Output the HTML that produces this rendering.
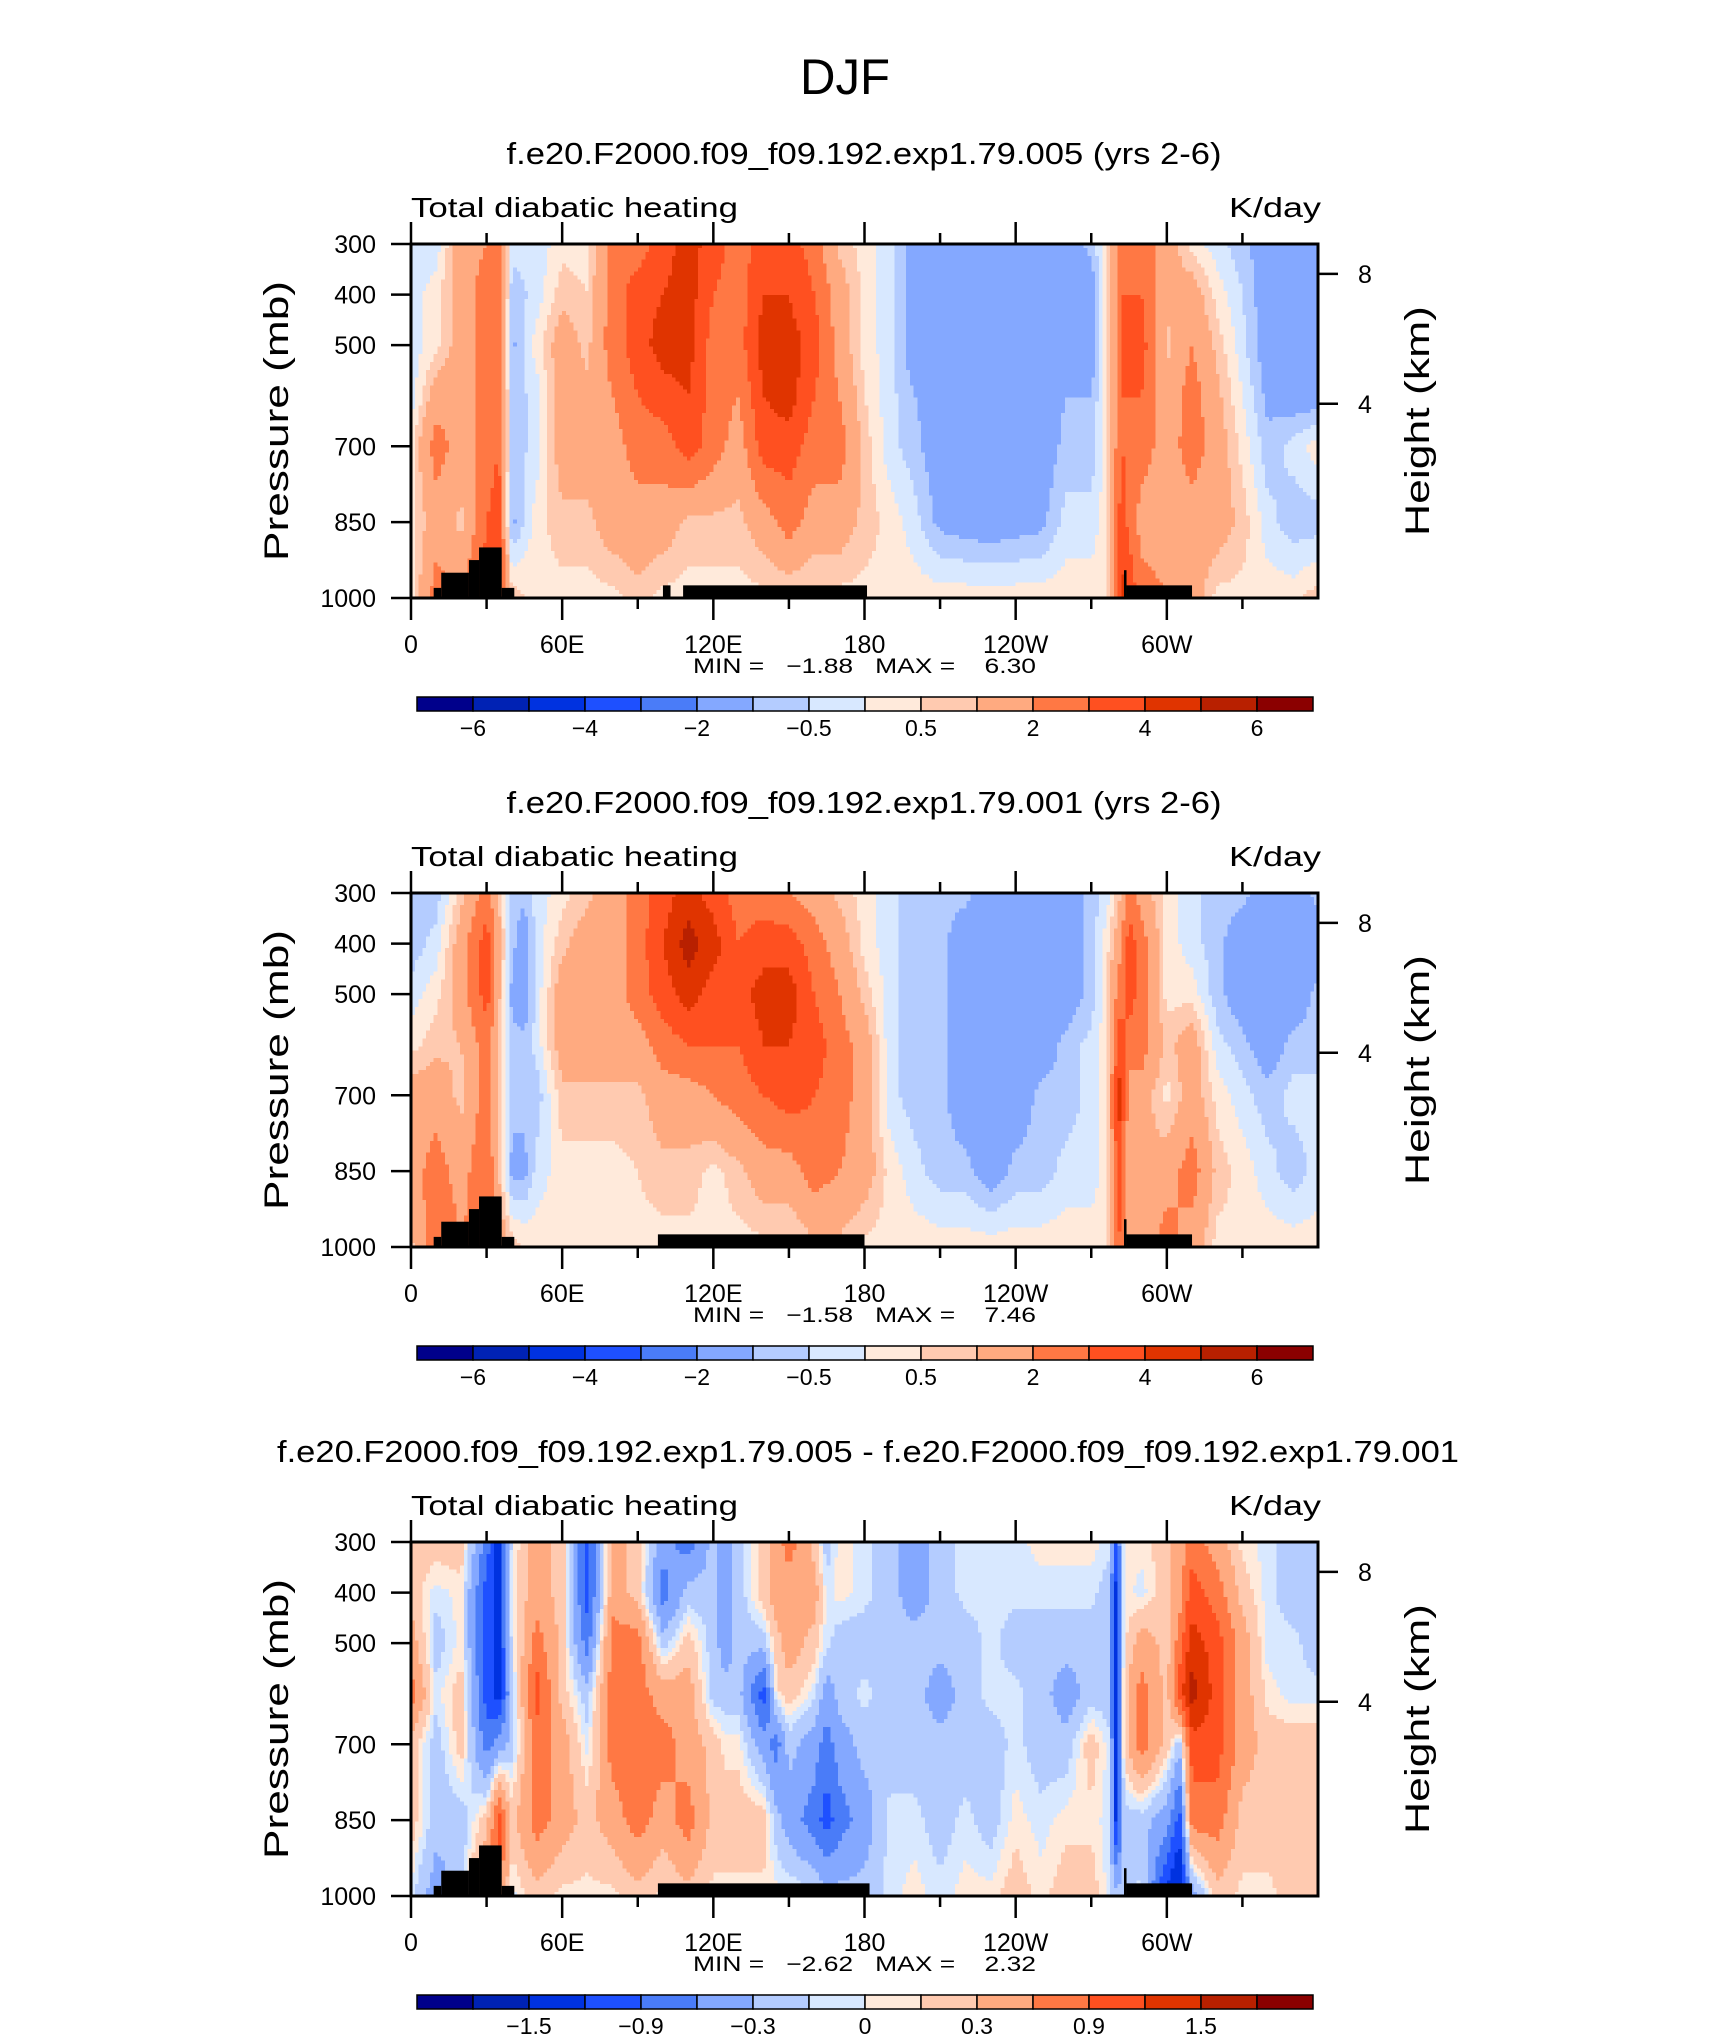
<!DOCTYPE html>
<html><head><meta charset="utf-8"><style>
html,body{margin:0;padding:0;background:#fff;}
svg{display:block;font-family:"Liberation Sans",sans-serif;}
</style></head>
<body>
<svg id="fig" xmlns="http://www.w3.org/2000/svg" width="1710" height="2038" viewBox="0 0 1710 2038">
<rect x="0" y="0" width="1710" height="2038" fill="#fff"/>
<text x="845" y="94" font-size="50" text-anchor="middle" textLength="90" lengthAdjust="spacingAndGlyphs">DJF</text>
</svg>
<script>
const pressures=[300,400,500,600,700,850,1000];
const colors=["#00008b","#0022b4","#0032e0","#1e50ff","#4a7cf8","#84a8ff","#b4ccff","#d8e8ff","#ffeadb","#ffcab0","#ffaa80","#ff7844","#ff5020","#e03400","#b82000","#8b0000"];
const levels12=[-6,-5,-4,-3,-2,-1,-0.5,0,0.5,1,2,3,4,5,6];
const levels3=[-1.8,-1.5,-1.2,-0.9,-0.6,-0.3,-0.1,0,0.1,0.3,0.6,0.9,1.2,1.5,1.8];
const cbLabels12=["−6","−4","−2","−0.5","0.5","2","4","6"];
const cbLabelIdx12=[1,3,5,7,9,11,13,15];
const cbLabels3=["−1.5","−0.9","−0.3","0","0.3","0.9","1.5"];
const cbLabelIdx3=[2,4,6,8,10,12,14];
const xTickLabels=["0","60E","120E","180","120W","60W"];
const xTickVals=[0,60,120,180,240,300];
const pTicks=[300,400,500,700,850,1000];
const hTicks=[8,4];
const hTickP=[359,616];

const p1Lon=[0,10,20,30,35,40,50,60,70,80,90,100,110,120,130,140,150,160,170,180,190,200,210,230,250,260,270,276,282,290,300,310,320,330,340,350,360];
const p1Val=[[-0.3,-0.3,-0.3,-0.3,0.3,0.3,0.3],[-0.3,0.3,0.3,1.5,2.5,1.5,2.5],[1.5,1.5,1.5,1.5,1.5,0.8,2],[2,2.5,2.5,2.5,2.5,3,3.5],[2.5,3,3,3,3,3.5,3.5],[-0.3,-0.8,-1.2,-0.8,-0.8,-1.2,0.8],[-0.3,-0.3,0.3,-0.3,-0.3,0.3,0.3],[0.3,0.8,1.5,1.5,1.5,0.8,0.3],[0.3,0.5,0.8,1.2,1.5,0.8,0.3],[2.5,2.5,2.5,2,1.5,1.5,0.3],[2.5,3.5,3.5,3,2.5,1.5,0.8],[3.5,4,4.5,3.5,2.5,1.5,0.3],[4.5,4.5,4.5,4,3.5,0.8,0.3],[3.5,3,2.5,2.5,2.5,0.8,0.3],[2.5,2.5,2.5,2,1.5,0.8,0.3],[3.5,4,4.5,4,3.5,1.5,0.3],[3.5,4,4.5,4.5,3.5,2.5,0.3],[2.5,3,3.5,3,2.5,1.5,0.3],[0.8,1.5,1.5,2,2.5,1.5,0.3],[0.3,0.3,0.3,0.5,0.8,0.8,0.3],[-0.3,-0.3,-0.3,-0.3,-0.3,0.3,0.3],[-1.5,-1.5,-1.5,-1,-0.8,-0.3,0.3],[-1.5,-1.5,-1.5,-1.5,-1.5,-1.2,0.3],[-1.5,-1.5,-1.5,-1.5,-1.5,-1.5,0.3],[-1.5,-1.5,-1.5,-1.5,-1.5,-1.2,0.3],[-1.5,-1.5,-1.5,-1,-0.8,-0.3,0.3],[-0.8,-1.5,-1.5,-1,-0.8,-0.3,0.3],[0.3,0.3,0.3,0.3,0.3,0.3,0.5],[2.5,3,3,3,3,3.5,4.5],[2.5,3,3.5,3,2.5,1.5,2.5],[1.5,1.2,0.8,1.2,1.5,1.5,2],[0.3,1.5,2,2.5,2.5,1.5,1.5],[-0.3,0.3,0.8,1.2,1.5,1.5,0.3],[-0.8,-0.5,-0.3,0,0.3,0.8,0.3],[-1.5,-1.5,-1.5,-1.2,-0.8,-0.3,0.3],[-1.5,-1.5,-1.5,-1.5,-0.3,-0.8,0.3],[-1.5,-1.5,-1.5,-1.5,0.3,-0.8,0.8]];

const p2Lon=[0,10,20,30,40,45,50,60,70,80,90,100,110,120,130,140,150,160,170,180,190,200,210,220,230,240,250,260,270,276,281,285,290,300,310,320,330,340,350,360];
const p2Val=[[-0.8,-0.8,-0.3,0.3,1.5,1.5,0.8],[-0.8,-0.3,0.3,0.8,1.5,2.5,3],[0.8,1.5,1.5,1,0.8,1.5,2],[2.5,3.5,3.5,2.5,2.5,3,3],[-0.8,-0.8,-1.2,-0.8,-0.8,-1.2,0.8],[-0.8,-1.5,-1.5,-0.8,-0.8,-1.2,0.5],[-0.3,-0.3,-0.3,-0.3,-0.8,-0.3,0.3],[0.3,0.8,1.5,1.5,0.8,0.3,0.3],[0.8,1.5,1.5,1.5,0.8,0.3,0.3],[1.5,1.5,1.5,1.5,0.8,0.3,0.3],[2.5,2.5,2.5,1.5,0.8,0.5,0.3],[3.5,4,3.5,2.5,1.5,0.8,0.3],[4.5,5.5,4.5,3,1.5,0.8,0.3],[3.5,4.5,3.5,3,2,0.3,0.3],[2.5,3,3.5,3,2.5,0.8,0.3],[2.5,3.5,4.5,4,3,1.5,0.3],[2,3.5,4.5,4,3.5,1.5,0.3],[1.5,2.5,3,3.5,3,2.5,0.8],[0.8,1.5,2,2.5,2.5,2,0.8],[0.3,0.3,0.8,1.5,1.5,1.5,0.3],[-0.3,-0.3,-0.3,-0.3,-0.3,0.3,0.3],[-0.8,-0.8,-0.8,-0.8,-0.8,-0.3,0.3],[-0.8,-0.8,-0.8,-0.8,-0.8,-0.8,0.3],[-0.8,-1.5,-1.5,-1.5,-1.5,-0.8,0.3],[-1.5,-1.5,-1.5,-1.5,-1.5,-1.5,0.3],[-1.5,-1.5,-1.5,-1.5,-1.5,-0.8,0.3],[-1.5,-1.5,-1.5,-1.5,-0.8,-0.8,0.3],[-1.5,-1.5,-1.5,-0.8,-0.8,-0.3,0.3],[-0.8,-0.8,-0.8,-0.3,-0.3,-0.3,0.3],[-0.3,0.3,0.3,0.3,0.3,0.3,0.3],[0.8,1.5,2.5,3.5,4.5,3.5,3],[2.5,3.5,3.5,2.5,1.5,1.5,1.5],[1.5,2.5,2.5,2.5,1.5,1,1.5],[0.3,0.3,0.3,0.8,0.3,1.5,2.5],[-0.3,-0.3,0.3,1.5,1.5,2.5,1.5],[-0.8,-0.8,-0.8,-0.3,0.3,0.8,0.3],[-0.8,-1.5,-1.5,-0.8,-0.3,0.3,0.3],[-1.5,-1.5,-1.5,-1.5,-0.8,-0.3,0.3],[-1.5,-1.5,-1.5,-0.8,-0.3,-0.8,0.3],[-0.8,-1.5,-0.8,-0.8,-0.3,-0.3,0.3]];

const p3Lon=[0,10,20,30,35,40,50,60,70,80,90,100,110,120,125,130,140,145,150,160,165,170,180,190,200,210,220,230,240,250,260,270,277,280,283,290,300,305,310,320,330,340,350,360];
const p3Val=[[0.2,0.2,0.45,0.75,0.2,0.2,-0.05],[0.2,-0.05,-0.2,-0.05,-0.2,-0.2,-0.45],[0.2,0.05,0.05,0.2,0.2,-0.2,-0.2],[-0.75,-1.05,-1.05,-1.05,-0.75,0.2,0.75],[-1.35,-1.35,-1.35,-1.35,-0.45,1.05,0.75],[-0.05,0.05,-0.05,-0.2,-0.2,0.2,-0.05],[0.45,0.45,0.75,1.05,0.75,0.75,0.2],[0.2,0.2,0.2,0.2,0.45,0.45,0.05],[-1.05,-1.05,-0.75,-0.2,-0.05,0.2,0.05],[0.45,0.45,0.75,0.75,0.75,0.45,0.05],[0.2,0.2,0.75,0.75,0.75,0.75,0.2],[-0.45,-0.75,-0.2,0.45,0.75,0.45,0.05],[-0.75,-0.2,0.2,0.45,0.45,0.75,0.2],[-0.2,-0.2,-0.2,-0.2,0.2,0.2,0.05],[-0.45,-0.45,-0.45,-0.2,0.05,0.2,0.05],[-0.2,-0.2,-0.2,-0.2,0.05,0.2,0.05],[0.2,0.2,-0.2,-1.05,-0.45,0.2,0.05],[0.45,0.45,0.2,0.05,-0.75,-0.2,0.05],[0.75,0.45,0.45,0.2,-0.2,-0.45,0.05],[0.2,0.45,0.2,-0.05,-0.45,-0.75,-0.05],[-0.2,-0.05,-0.05,-0.45,-0.75,-1.05,-0.2],[0.05,0.05,-0.2,-0.2,-0.45,-0.75,-0.2],[-0.05,-0.05,-0.2,-0.05,-0.2,-0.45,-0.2],[-0.2,-0.2,-0.2,-0.2,-0.2,-0.05,-0.05],[-0.45,-0.45,-0.2,-0.2,-0.2,-0.05,0.05],[-0.2,-0.2,-0.2,-0.45,-0.2,-0.2,-0.05],[-0.05,-0.05,-0.2,-0.2,-0.2,-0.05,0.05],[-0.05,-0.05,-0.05,-0.05,-0.2,-0.2,0.05],[-0.05,-0.05,-0.2,-0.05,-0.05,0.05,0.2],[0.05,-0.05,-0.2,-0.2,-0.2,-0.05,0.05],[0.05,-0.05,-0.2,-0.45,-0.2,0.05,0.2],[0.05,-0.05,-0.2,-0.2,0.2,0.05,0.2],[-0.05,-0.2,-0.2,-0.2,-0.05,-0.05,-0.05],[-1.05,-1.35,-1.35,-1.35,-1.35,-1.35,-0.2],[0.05,0.05,0.05,0.2,0.2,-0.2,-0.2],[0.05,-0.05,0.45,0.75,0.75,-0.2,-0.05],[0.2,0.2,0.2,0.2,0.2,-0.45,-1.35],[0.45,0.45,0.75,1.05,-0.2,-1.05,-1.65],[0.75,1.05,1.35,1.65,1.05,0.75,-0.45],[0.45,0.75,1.05,1.05,1.05,0.75,0.2],[0.05,0.2,0.45,0.45,0.45,0.2,0.05],[-0.05,-0.05,-0.05,0.05,0.2,0.2,0.05],[-0.2,-0.2,-0.05,-0.05,0.2,0.2,0.2],[-0.2,-0.2,-0.2,-0.05,0.2,0.2,0.2]];

const topo1Start=[9,12,23,27,36,100,108,283,284];
const topo1End=[12,23,27,36,41,103,181,284,310];
const topo1Top=[980,950,925,900,980,975,975,945,975];
const topo2Start=[9,12,23,27,36,98,283,284];
const topo2End=[12,23,27,36,41,180,284,310];
const topo2Top=[980,950,925,900,980,975,945,975];
const topo3End=[12,23,27,36,41,182,284,310];

const panelTitles=["f.e20.F2000.f09_f09.192.exp1.79.005 (yrs 2-6)","f.e20.F2000.f09_f09.192.exp1.79.001 (yrs 2-6)","f.e20.F2000.f09_f09.192.exp1.79.005 - f.e20.F2000.f09_f09.192.exp1.79.001"];
const minVals=["−1.88","−1.58","−2.62"];
const maxVals=["6.30","7.46","2.32"];

const NS="http://www.w3.org/2000/svg";
const svg=document.getElementById('fig');
function mk(tag,attrs,parent){const e=document.createElementNS(NS,tag);for(const k in attrs)e.setAttribute(k,attrs[k]);(parent||svg).appendChild(e);return e;}

const PL=411,PR=1318,PH=354;
function xScale(lon){return PL+(lon/360)*(PR-PL);}

function interp(lons,vals,lon,p){
  let i=0;while(i<lons.length-2&&lon>lons[i+1])i++;
  const tx=Math.max(0,Math.min(1,(lon-lons[i])/(lons[i+1]-lons[i])));
  let j=0;while(j<pressures.length-2&&p>pressures[j+1])j++;
  const ty=Math.max(0,Math.min(1,(p-pressures[j])/(pressures[j+1]-pressures[j])));
  const a=vals[i][j]*(1-tx)+vals[i+1][j]*tx;
  const b=vals[i][j+1]*(1-tx)+vals[i+1][j+1]*tx;
  return a*(1-ty)+b*ty;
}
function colorIdx(v,lev){let k=0;while(k<lev.length&&v>=lev[k])k++;return k;}

function drawPanel(n,top,lons,vals,levels,tS,tE,tT,cbL,cbI){
  const yScale=p=>top+(p-300)/700*PH;
  const g=mk('g',{});
  
  
  const t=mk('text',{x:n==2?868:864,y:top-80,'font-size':31,'text-anchor':'middle',textLength:n==2?1182:715,lengthAdjust:'spacingAndGlyphs'},g);
  t.textContent=panelTitles[n];
  
  
  const st=mk('text',{x:PL,y:top-27,'font-size':28,textLength:327,lengthAdjust:'spacingAndGlyphs'},g);
  st.textContent="Total diabatic heating";
  
  
  const un=mk('text',{x:1321,y:top-27,'font-size':28,'text-anchor':'end',textLength:92,lengthAdjust:'spacingAndGlyphs'},g);
  un.textContent="K/day";
  
  
  const fg=mk('g',{'shape-rendering':'crispEdges'},g);
  
  
  const nx=240,ny=90,dx=360/nx,dp=700/ny;
  for(let r=0;r<ny;r++){
    const p=300+(r+0.5)*dp;
    let start=0,cur=-1;
    for(let c=0;c<=nx;c++){
      const k=c<nx?colorIdx(interp(lons,vals,(c+0.5)*dx,p),levels):-2;
      if(k!==cur){
        if(cur>=0){
          const x0=xScale(start*dx),x1=xScale(c*dx);
          const rc=mk('rect',{x:x0.toFixed(2),y:yScale(300+r*dp).toFixed(2),width:(x1-x0+0.6).toFixed(2),height:(PH/ny+0.6).toFixed(2),fill:colors[cur]},fg);
          
          
        }
        cur=k;start=c;
      }
    }
  }
  for(let i=0;i<tS.length;i++){
    const r=mk('rect',{x:xScale(tS[i]),y:yScale(tT[i]),width:xScale(tE[i])-xScale(tS[i]),height:yScale(1000)-yScale(tT[i]),fill:'#000'},g);
    
    
  }
  const fr=mk('rect',{x:PL,y:top,width:PR-PL,height:PH,fill:'none',stroke:'#000','stroke-width':3},g);
  
  
  for(let lon=0;lon<=330;lon+=30){
    const major=lon%60===0,len=major?22:11,x=xScale(lon);
    mk('line',{x1:x,y1:top+PH,x2:x,y2:top+PH+len,stroke:'#000','stroke-width':2.5},g);
    mk('line',{x1:x,y1:top,x2:x,y2:top-len,stroke:'#000','stroke-width':2.5},g);
  }
  xTickVals.forEach((v,i)=>{
    const tl=mk('text',{x:xScale(v),y:top+PH+55,'font-size':25,'text-anchor':'middle'},g);
    tl.textContent=xTickLabels[i];
    
    
  });
  pTicks.forEach(p=>{
    const y=yScale(p);
    mk('line',{x1:PL,y1:y,x2:PL-20,y2:y,stroke:'#000','stroke-width':2.5},g);
    const tl=mk('text',{x:376,y:y+9,'font-size':25,'text-anchor':'end'},g);
    tl.textContent=String(p);
    
    
  });
  hTicks.forEach((h,i)=>{
    const y=yScale(hTickP[i]);
    mk('line',{x1:PR,y1:y,x2:PR+20,y2:y,stroke:'#000','stroke-width':2.5},g);
    const tl=mk('text',{x:1358,y:y+9,'font-size':25},g);
    tl.textContent=String(h);
    
    
  });
  const yt=mk('text',{x:0,y:0,'font-size':34,'text-anchor':'middle',textLength:280,lengthAdjust:'spacingAndGlyphs',transform:`translate(288,${top+PH/2}) rotate(-90)`},g);
  yt.textContent="Pressure (mb)";
  
  
  const ht=mk('text',{x:0,y:0,'font-size':34,'text-anchor':'middle',textLength:230,lengthAdjust:'spacingAndGlyphs',transform:`translate(1429,${top+PH/2}) rotate(-90)`},g);
  ht.textContent="Height (km)";
  
  
  const mm=mk('text',{x:693,y:top+PH+75,'font-size':21,style:'white-space:pre',textLength:343,lengthAdjust:'spacingAndGlyphs'},g);
  mm.textContent="MIN =   "+minVals[n]+"   MAX =    "+maxVals[n];
  
  
  const cb=mk('g',{},g);
  
  
  const cx0=417,cw=896/16,cy=top+PH+99;
  colors.forEach((c,i)=>{
    const r=mk('rect',{x:cx0+i*cw,y:cy,width:cw,height:14,fill:c,stroke:'#000','stroke-width':1.5},cb);
    
    
  });
  cbL.forEach((l,i)=>{
    const tl=mk('text',{x:cx0+cbI[i]*cw,y:cy+39,'font-size':23,'text-anchor':'middle'},cb);
    tl.textContent=l;
    
    
  });
}
drawPanel(0,244,p1Lon,p1Val,levels12,topo1Start,topo1End,topo1Top,cbLabels12,cbLabelIdx12);
drawPanel(1,893,p2Lon,p2Val,levels12,topo2Start,topo2End,topo2Top,cbLabels12,cbLabelIdx12);
drawPanel(2,1542,p3Lon,p3Val,levels3,topo2Start,topo3End,topo2Top,cbLabels3,cbLabelIdx3);
</script>
</body></html>
